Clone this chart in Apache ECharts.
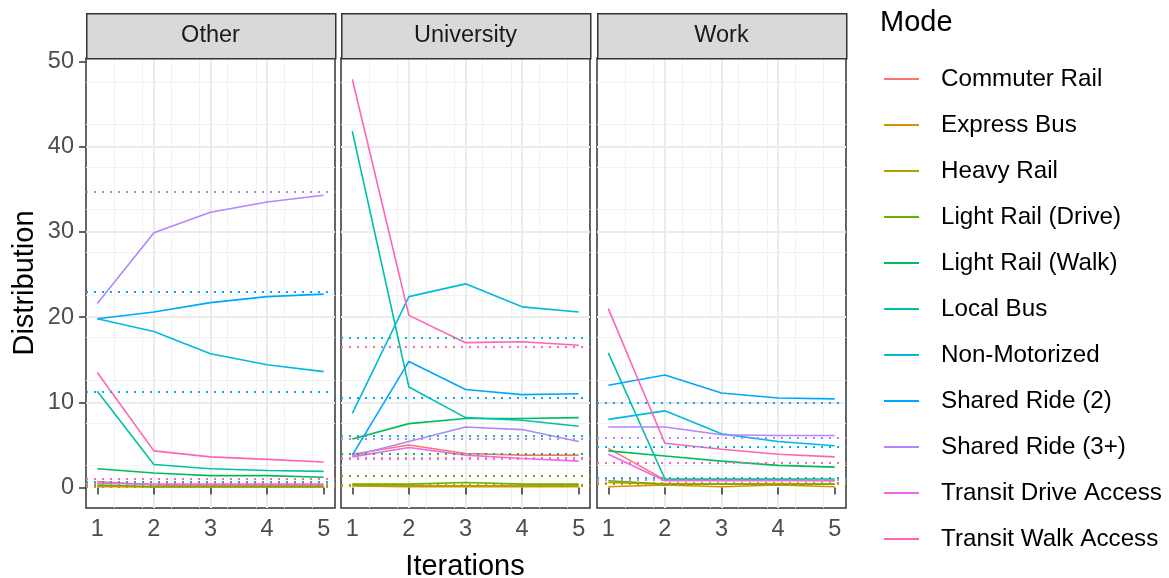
<!DOCTYPE html>
<html><head><meta charset="utf-8">
<script src="https://cdn.jsdelivr.net/npm/echarts@6/dist/echarts.min.js"></script>
<style>html,body{margin:0;padding:0;background:#fff}#chart{width:1169px;height:578px}</style>
</head><body><div id="chart"></div>
<script>
const modes = ['Commuter Rail','Express Bus','Heavy Rail','Light Rail (Drive)','Light Rail (Walk)','Local Bus','Non-Motorized','Shared Ride (2)','Shared Ride (3+)','Transit Drive Access','Transit Walk Access'];
const modeColors = ['#F8766D','#DB8E00','#AEA200','#64B200','#00BD5C','#00C1A7','#00BADE','#00A6FF','#B385FF','#EF67EB','#FF63B6'];
const panels = ['Other','University','Work'];
const iterations = [1,2,3,4,5];
const xTickLabels = [1,2,3,4,5];
const yTickLabels = [0,10,20,30,40,50];

// rows follow the order of `modes`
const otherValues = [
  [0.7,0.3,0.2,0.2,0.2],
  [0.1,0.1,0.1,0.1,0.1],
  [0.2,0.1,0.1,0.1,0.1],
  [0.3,0.1,0.1,0.1,0.1],
  [2.2,1.7,1.4,1.4,1.2],
  [11.3,2.7,2.2,2.0,1.9],
  [19.8,18.3,15.7,14.4,13.6],
  [19.8,20.6,21.7,22.4,22.7],
  [21.6,29.9,32.3,33.5,34.3],
  [0.5,0.4,0.4,0.4,0.4],
  [13.5,4.3,3.6,3.3,3.0]
];
const otherTargets = [0.3,0.1,0.2,0.3,0.5,0.7,11.2,23.0,34.7,0.4,1.0];

const universityValues = [
  [3.9,5.0,4.0,3.8,3.8],
  [0.2,0.1,0.1,0.1,0.1],
  [0.3,0.2,0.2,0.2,0.2],
  [0.4,0.4,0.6,0.4,0.4],
  [5.7,7.5,8.1,8.1,8.2],
  [41.8,11.8,8.2,7.9,7.2],
  [8.7,22.4,23.9,21.2,20.6],
  [3.8,14.8,11.5,10.9,11.0],
  [3.7,5.4,7.1,6.8,5.4],
  [3.6,4.7,3.8,3.4,3.1],
  [47.9,20.2,17.0,17.1,16.7]
];
const universityTargets = [3.5,0.2,0.3,1.4,4.0,6.1,17.6,10.5,5.7,3.4,16.5];

const workValues = [
  [4.6,0.9,0.9,0.9,0.8],
  [0.1,0.3,0.1,0.3,0.1],
  [0.6,0.4,0.4,0.4,0.4],
  [0.8,0.4,0.4,0.4,0.4],
  [4.3,3.7,3.1,2.6,2.4],
  [15.8,1.0,1.0,1.0,1.0],
  [8.0,9.0,6.3,5.4,4.9],
  [12.0,13.2,11.1,10.5,10.4],
  [7.1,7.1,6.2,6.1,6.1],
  [3.9,0.8,0.8,0.8,0.8],
  [21.0,5.2,4.5,3.9,3.6]
];
const workTargets = [1.0,0.4,0.6,1.0,1.2,1.2,4.8,10.0,5.9,0.9,2.9];

const panelValues = [otherValues, universityValues, workValues];
const panelTargets = [otherTargets, universityTargets, workTargets];

const FONT = 'Liberation Sans, Arial, sans-serif';
const panelLeft = [86, 341, 597];
const panelWidth = 249;
const panelTop = 58;
const panelHeight = 450;

const grids = [], xAxes = [], yAxes = [], series = [], graphics = [];
panels.forEach((p, pi) => {
  grids.push({left: panelLeft[pi], top: panelTop, width: panelWidth, height: panelHeight,
    show: true, borderColor: '#333333', borderWidth: 1.5, backgroundColor: '#ffffff'});
  // minor grid axes
  xAxes.push({type:'value', gridIndex: pi, min: 0.8, max: 5.2, interval: 0.5,
    axisLine:{show:false}, axisTick:{show:false}, axisLabel:{show:false},
    splitLine:{show:true, showMinLine:false, showMaxLine:false, lineStyle:{color:'#F2F2F2', width:1}}});
  yAxes.push({type:'value', gridIndex: pi, min: -2.4, max: 50.4, interval: 5,
    axisLine:{show:false}, axisTick:{show:false}, axisLabel:{show:false},
    splitLine:{show:true, showMinLine:false, showMaxLine:false, lineStyle:{color:'#F2F2F2', width:1}}});
  // major axes
  xAxes.push({type:'value', gridIndex: pi, min: 0.8, max: 5.2, interval: 1, position:'bottom',
    axisLine:{show:false},
    axisTick:{show:true, customValues: xTickLabels, length: 7, lineStyle:{color:'#333333', width:1.5}},
    axisLabel:{show:true, customValues: xTickLabels, margin: 10, fontSize: 23.5, color:'#4D4D4D', fontFamily: FONT},
    splitLine:{show:true, showMinLine:false, showMaxLine:false, lineStyle:{color:'#EBEBEB', width:2}}});
  yAxes.push({type:'value', gridIndex: pi, min: -2.4, max: 50.4, interval: 10, position:'left',
    axisLine:{show:false},
    axisTick:{show: pi === 0, customValues: yTickLabels, length: 7, lineStyle:{color:'#333333', width:1.5}},
    axisLabel:{show: pi === 0, customValues: yTickLabels, margin: 12, fontSize: 23.5, color:'#4D4D4D', fontFamily: FONT},
    splitLine:{show:true, showMinLine:false, showMaxLine:false, lineStyle:{color:'#EBEBEB', width:2}}});
  const vals = panelValues[pi], tg = panelTargets[pi];
  modes.forEach((m, mi) => {
    const c = modeColors[mi];
    series.push({type:'line', name: m, xAxisIndex: 2*pi+1, yAxisIndex: 2*pi+1,
      data: iterations.map((it, i) => [it, vals[mi][i]]),
      showSymbol:false, symbol:'none', color: c, itemStyle:{color:c},
      lineStyle:{color:c, width:1.6}, animation:false, silent:true,
      markLine:{silent:true, symbol:'none', animation:false, label:{show:false},
        lineStyle:{color:c, type:[2,6], width:2},
        emphasis:{disabled:true},
        data:[{yAxis: tg[mi]}]}
    });
  });
  graphics.push({type:'rect', left: panelLeft[pi], top: 13,
    shape:{width: panelWidth, height: 45},
    style:{fill:'#D9D9D9', stroke:'#333333', lineWidth:1.5}, z: 10});
  graphics.push({type:'text', x: panelLeft[pi] + panelWidth/2, y: 36,
    style:{text: p, font: '23.5px ' + FONT, fill:'#1A1A1A', textAlign:'center', textVerticalAlign:'middle'}, z: 11});
});

graphics.push({type:'text', x: 465, y: 567,
  style:{text:'Iterations', font:'29px ' + FONT, fill:'#000', textAlign:'center', textVerticalAlign:'middle'}});
graphics.push({type:'text', x: 25, y: 283, rotation: Math.PI/2,
  style:{text:'Distribution', font:'29px ' + FONT, fill:'#000', textAlign:'center', textVerticalAlign:'middle'}});
graphics.push({type:'text', x: 880, y: 23,
  style:{text:'Mode', font:'29px ' + FONT, fill:'#000', textAlign:'left', textVerticalAlign:'middle'}});

const chart = echarts.init(document.getElementById('chart'));
chart.setOption({
  animation:false,
  backgroundColor:'#ffffff',
  grid: grids, xAxis: xAxes, yAxis: yAxes, series: series,
  legend:{orient:'vertical', left: 884, top: 66, padding: 0, icon:'rect', itemWidth: 35, itemHeight: 2,
    itemGap: 20, selectedMode: false, data: modes,
    textStyle:{fontSize: 24.2, color:'#000', fontFamily: FONT, padding:[0,0,0,17], lineHeight: 26}},
  graphic: graphics
});
</script></body></html>
